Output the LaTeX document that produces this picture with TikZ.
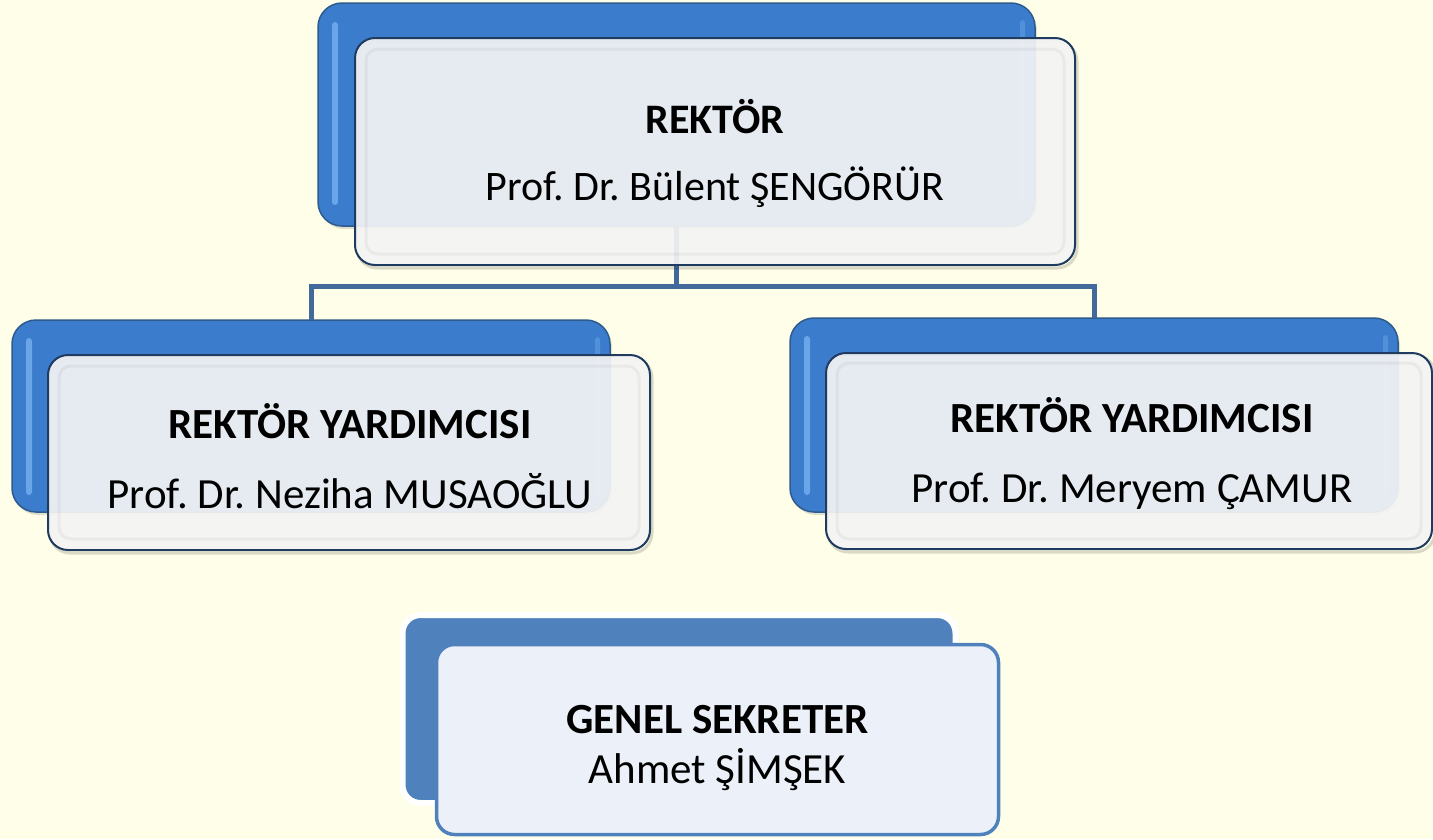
\documentclass[tikz,border=0pt]{standalone}
\usepackage{fontspec}
\setmainfont{Carlito}
\usetikzlibrary{shadows}
\definecolor{bgc}{HTML}{FFFFE9}
\definecolor{blueback}{HTML}{3B7DCC}
\definecolor{blueedge}{HTML}{2E5A8C}
\definecolor{bluehi}{HTML}{7DB6F4}
\definecolor{frontfill}{HTML}{F4F4F4}
\definecolor{navy}{HTML}{1F3B60}
\definecolor{connc}{HTML}{41699A}
\definecolor{gsblue}{HTML}{4F81BD}
\definecolor{gsfill}{HTML}{ECF0F8}
\frenchspacing
\begin{document}
\frenchspacing
\begin{tikzpicture}[x=1pt,y=-1pt,
  backbox/.style={draw=blueedge, line width=1.5pt, fill=blueback, rounded corners=24pt,
    inner sep=0pt, outer sep=0pt, drop shadow={shadow xshift=2pt, shadow yshift=-3pt, opacity=0.25}},
  frontbox/.style={draw=navy, line width=2pt, fill=frontfill, fill opacity=0.93,
    rounded corners=20pt, inner sep=0pt, outer sep=0pt},
  bevel/.style={draw=black, draw opacity=0.045, line width=3pt, rounded corners=12pt},
  fshadow/.style={draw=black, draw opacity=0.15, line width=3pt, rounded corners=20pt},
  bigtext/.style={font=\fontsize{42}{67}\selectfont, align=center, inner sep=0pt},
  midtext/.style={font=\fontsize{43}{70}\selectfont, align=center, inner sep=0pt},
  smalltext/.style={font=\fontsize{43}{50}\selectfont, align=center, inner sep=0pt},
  conn/.style={draw=connc, line width=5pt},
  hilite/.style={fill=bluehi, opacity=0.7, rounded corners=3pt},
  hilitetwo/.style={fill=bluehi, opacity=0.35, rounded corners=3pt}
]
\fill[bgc] (0,0) rectangle (1433,839);
\useasboundingbox (0,0) rectangle (1433,839);

% back boxes
\node[backbox, minimum width=717pt, minimum height=223pt] (topback) at (676.5,114.5) {};
\node[backbox, minimum width=598pt, minimum height=192pt] (leftback) at (311,416) {};
\node[backbox, minimum width=608pt, minimum height=194pt] (rightback) at (1094,415) {};
\node[draw=white, line width=6pt, fill=gsblue, rounded corners=18pt, inner sep=0pt,
  minimum width=553pt, minimum height=188pt,
  drop shadow={shadow xshift=2pt, shadow yshift=-3pt, opacity=0.2}] (gsback) at (679,709) {};

% gloss highlights on blue boxes
\fill[hilite] (332,22) rectangle (338,205);
\fill[hilite] (26,338) rectangle (32,495);
\fill[hilite] (804,336) rectangle (810,495);
\fill[hilitetwo] (1383,335) rectangle (1388,495);
\fill[hilitetwo] (1020,20) rectangle (1025,205);
\fill[hilitetwo] (595,337) rectangle (600,495);

% connectors
\coordinate (hub) at (676.5,286);
\draw[conn] (topback.south) -- (hub) -| (leftback.north);
\draw[conn] (hub) -| (rightback.north);

% soft shadows under the front boxes (outline only)
\draw[fshadow] (357,41) rectangle (1077,268);
\draw[fshadow] (50,358) rectangle (652,553);
\draw[fshadow] (828,355) rectangle (1435,552);

% front boxes
\node[frontbox, minimum width=720pt, minimum height=227pt] (rektor) at (715,151.5) {};
\node[frontbox, minimum width=602pt, minimum height=195pt] (ryleft) at (349,452.5) {};
\node[frontbox, minimum width=606pt, minimum height=196pt] (ryright) at (1129,451) {};
\node[draw=gsblue, line width=3.5pt, fill=gsfill, rounded corners=18pt, inner sep=0pt,
  minimum width=562pt, minimum height=190pt] (gs) at (717.5,739.5) {};

% inner bevels of the front boxes
\draw[bevel] (366,49) rectangle (1064,254);
\draw[bevel] (59,366) rectangle (639,539);
\draw[bevel] (837,363) rectangle (1421,539);

% texts
\node[bigtext] (rektortxt) at (715,153) {\textbf{REKTÖR}\\Prof. Dr. Bülent ŞENGÖRÜR};
\node[midtext] (ryltxt) at (350,456) {\textbf{REKTÖR YARDIMCISI}\\Prof. Dr. Neziha MUSAOĞLU};
\node[midtext] (ryrtxt) at (1132,454) {\textbf{REKTÖR YARDIMCISI}\\Prof. Dr. Meryem ÇAMUR};
\node[smalltext] (gstxt) at (717.5,748) {\textbf{GENEL SEKRETER}\\Ahmet ŞİMŞEK};
\end{tikzpicture}
\end{document}
